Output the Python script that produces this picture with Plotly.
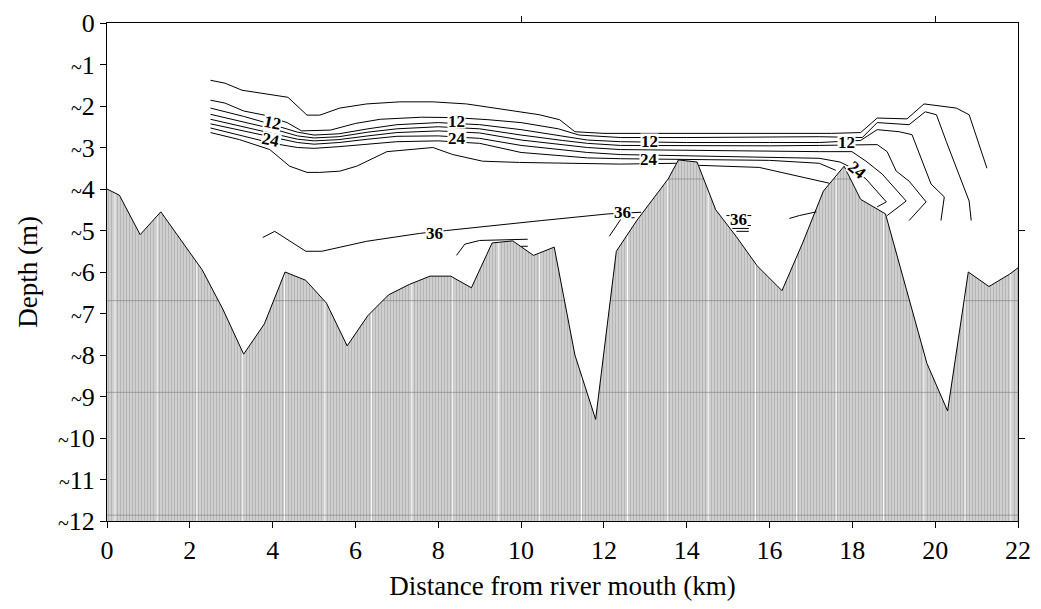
import plotly.graph_objects as go

# ---------------- data ----------------
# bathymetry profile (distance km, depth m)
bed_x = [0, 0.3, 0.8, 1.3, 1.8, 2.3, 2.8, 3.3, 3.8, 4.3, 4.8, 5.3, 5.8, 6.3, 6.8, 7.3, 7.8,
         8.3, 8.8, 9.3, 9.8, 10.3, 10.8, 11.3, 11.8, 12.3, 12.8, 13.3, 13.55, 13.8, 14.25,
         14.7, 15.2, 15.7, 16.3, 16.8, 17.3, 17.8, 18.2, 18.8, 19.3, 19.8, 20.3, 20.8,
         21.3, 21.8, 22]
bed_z = [-4.0, -4.15, -5.1, -4.55, -5.25, -5.95, -6.9, -7.98, -7.25, -6.0, -6.2, -6.75,
         -7.78, -7.05, -6.55, -6.3, -6.1, -6.1, -6.38, -5.3, -5.25, -5.6, -5.4, -8.0,
         -9.55, -5.5, -4.75, -4.1, -3.76, -3.3, -3.35, -4.5, -5.15, -5.85, -6.45, -5.3,
         -4.05, -3.45, -4.25, -4.6, -6.4, -8.2, -9.35, -6.0, -6.35, -6.05, -5.9]

# isohalines (salinity)
iso4_x = [2.5, 2.85, 3.26, 4.37, 4.83, 5.14, 5.62, 6.27, 7.07, 7.87, 8.68, 9.96, 10.44,
          10.93, 11.3, 12.0, 14.0, 16.0, 17.5, 18.2, 18.6, 19.32, 19.73, 20.51, 20.82, 21.25]
iso4_z = [-1.38, -1.45, -1.62, -1.79, -2.22, -2.22, -2.05, -1.95, -1.9, -1.9, -1.95, -2.14,
          -2.21, -2.33, -2.62, -2.66, -2.66, -2.66, -2.66, -2.64, -2.29, -2.31, -1.95,
          -2.05, -2.21, -3.5]

iso8_x = [2.5, 2.85, 3.3, 3.8, 4.35, 4.7, 5.4, 6.0, 6.6, 7.6, 8.4, 9.2, 10.0, 10.9, 11.4,
          12.4, 14.0, 16.0, 17.2, 18.24, 18.6, 19.37, 19.76, 20.03, 20.27, 20.82, 20.87]
iso8_z = [-1.86, -1.93, -2.12, -2.22, -2.4, -2.6, -2.58, -2.42, -2.32, -2.27, -2.28, -2.33,
          -2.4, -2.55, -2.7, -2.76, -2.76, -2.75, -2.74, -2.76, -2.4, -2.45, -2.14, -2.21,
          -2.86, -4.29, -4.76]

iso12_x = [2.5, 3.3, 4.0, 4.6, 5.0, 5.6, 6.3, 7.0, 8.0, 9.0, 10.0, 11.0, 11.6, 12.4, 14.0,
           16.0, 17.2, 18.2, 18.6, 19.13, 19.44, 19.9, 20.22, 20.14]
iso12_z = [-2.05, -2.25, -2.45, -2.63, -2.7, -2.67, -2.55, -2.45, -2.4, -2.45, -2.57,
           -2.72, -2.82, -2.86, -2.88, -2.88, -2.88, -2.83, -2.57, -2.62, -2.69, -3.88,
           -4.19, -4.76]

iso16_x = [2.5, 3.3, 4.0, 4.6, 5.0, 5.6, 6.3, 7.0, 8.0, 9.0, 10.0, 11.0, 11.6, 12.4, 14.0,
           16.0, 17.2, 18.05, 18.6, 18.84, 19.06, 19.37, 19.78, 19.37]
iso16_z = [-2.2, -2.38, -2.55, -2.72, -2.77, -2.74, -2.63, -2.55, -2.5, -2.55, -2.7, -2.83,
           -2.9, -2.95, -2.96, -2.96, -2.95, -2.93, -2.93, -3.1, -3.57, -3.81, -4.31, -4.76]

iso20_x = [2.5, 3.3, 4.0, 4.6, 5.0, 5.6, 6.3, 7.0, 8.0, 9.0, 10.0, 11.0, 11.6, 12.4, 14.0,
           16.0, 17.2, 17.99, 18.33, 18.72, 19.3, 18.84]
iso20_z = [-2.32, -2.5, -2.65, -2.8, -2.84, -2.81, -2.72, -2.64, -2.6, -2.65, -2.82, -2.94,
           -3.0, -3.05, -3.07, -3.08, -3.1, -3.1, -3.33, -3.64, -4.29, -4.64]

iso24_x = [2.5, 3.3, 4.0, 4.6, 5.0, 5.6, 6.3, 7.0, 8.0, 9.0, 10.0, 11.0, 11.6, 12.4, 14.0,
           16.0, 17.2, 17.7, 18.05, 18.33, 18.6, 18.82, 18.6]
iso24_z = [-2.43, -2.6, -2.76, -2.88, -2.92, -2.88, -2.8, -2.73, -2.72, -2.78, -2.95, -3.06,
           -3.12, -3.17, -3.2, -3.22, -3.26, -3.35, -3.52, -3.76, -4.05, -4.31, -4.43]

iso28_x = [2.5, 3.3, 4.0, 4.6, 5.0, 5.6, 6.3, 7.0, 8.0, 9.0, 10.0, 11.0, 11.6, 12.4, 14.0,
           16.0, 17.2, 17.6]
iso28_z = [-2.53, -2.72, -2.9, -3.0, -3.02, -2.98, -2.92, -2.86, -2.84, -2.9, -3.12, -3.2,
           -3.25, -3.27, -3.29, -3.31, -3.38, -3.55]

iso32_x = [2.5, 3.2, 3.93, 4.41, 4.83, 5.14, 5.62, 6.03, 6.76, 7.87, 8.35, 9.07, 9.96, 11.0,
           12.4, 13.75, None, 14.3, 15.75, 17.44]
iso32_z = [-2.64, -2.81, -3.05, -3.45, -3.6, -3.6, -3.57, -3.45, -3.1, -3.0, -3.17, -3.33,
           -3.36, -3.38, -3.4, -3.38, None, -3.43, -3.48, -3.86]

iso36_x = [3.76, 4.05, 4.8, 5.19, 6.27, 7.55, 8.2, 9.48, 10.5, 12.1, 12.75, 12.9, None,
           8.44, 8.64, 9.0, 10.16, None, 10.0, 10.16, None,
           12.13, 12.42, 12.74, None, 16.48, 16.72, 17.13, None,
           14.96, 15.56, None, 15.05, 15.55, None, 15.1, 15.5, None, 15.2, 15.5]
iso36_z = [-5.17, -5.02, -5.5, -5.5, -5.26, -5.07, -5.0, -4.86, -4.76, -4.6, -4.56, -4.56, None,
           -5.6, -5.33, -5.24, -5.21, None, -5.38, -5.38, None,
           -5.14, -4.71, -4.69, None, -4.71, -4.64, -4.55, None,
           -4.64, -4.64, None, -4.88, -4.88, None, -4.95, -4.95, None, -5.02, -5.02]

# contour labels: text, x, depth, rotation
lab_text = ["12", "24", "12", "24", "12", "24", "12", "24", "36", "36", "36"]
lab_x = [4.0, 3.95, 8.45, 8.45, 13.1, 13.1, 17.85, 18.1, 7.9, 12.45, 15.25]
lab_z = [-2.4, -2.82, -2.35, -2.78, -2.84, -3.27, -2.86, -3.55, -5.07, -4.55, -4.72]
lab_rot = [12, 12, 0, 0, 0, 0, 0, 40, 0, 0, 0]

# axis ticks
x_ticks = list(range(0, 23, 2))
y_ticks = list(range(0, -13, -1))
y_ticktext = ["0"] + ["<span style='font-size:20px'>~</span>" + str(-v) for v in y_ticks[1:]]

# --------------- style helpers ---------------
FONT = "Liberation Serif"
seam_x = [0.19, 1.21, 2.17, 3.28, 4.29, 5.26, 6.39, 7.36, 8.35, 9.46, 10.45, 11.46, 12.57,
          13.53, 14.52, 15.66, 16.65, 17.61, 18.75, 19.73, 20.72, 21.83]
seam_z = [-3.76, -6.69, -8.9, -11.86]

fig = go.Figure()

# seabed hatch fill
fig.add_trace(go.Scatter(
    x=bed_x + [22, 0], y=bed_z + [-12, -12], mode="lines", fill="toself",
    line=dict(width=0, color="rgba(0,0,0,0)"),
    fillpattern=dict(shape="|", size=3, solidity=0.34, bgcolor="#cfcfcf", fgcolor="#9c9c9c"),
    hoverinfo="skip", showlegend=False))

# hatch seams
vx, vy = [], []
for s in seam_x:
    vx += [s, s, None]
    vy += [-12, 0, None]
fig.add_trace(go.Scatter(x=vx, y=vy, mode="lines", line=dict(color="white", width=1),
                         hoverinfo="skip", showlegend=False))
hx, hy = [], []
for s in seam_z:
    hx += [0, 22, None]
    hy += [s, s, None]
fig.add_trace(go.Scatter(x=hx, y=hy, mode="lines", line=dict(color="#7a7a7a", width=0.6),
                         hoverinfo="skip", showlegend=False))

# water (white) above the bed
fig.add_trace(go.Scatter(
    x=bed_x + [22, 0], y=bed_z + [0, 0], mode="lines", fill="toself", fillcolor="white",
    line=dict(width=0, color="rgba(0,0,0,0)"), hoverinfo="skip", showlegend=False))

# bed outline
fig.add_trace(go.Scatter(x=bed_x, y=bed_z, mode="lines", line=dict(color="black", width=1),
                         hoverinfo="skip", showlegend=False))

# isohalines
for xs, zs in [(iso4_x, iso4_z), (iso8_x, iso8_z), (iso12_x, iso12_z), (iso16_x, iso16_z),
               (iso20_x, iso20_z), (iso24_x, iso24_z), (iso28_x, iso28_z),
               (iso32_x, iso32_z), (iso36_x, iso36_z)]:
    fig.add_trace(go.Scatter(x=xs, y=zs, mode="lines", line=dict(color="black", width=1),
                             connectgaps=False, hoverinfo="skip", showlegend=False))

# contour labels
for t, x, z, r in zip(lab_text, lab_x, lab_z, lab_rot):
    fig.add_annotation(x=x, y=z, text=t, showarrow=False, textangle=r,
                       font=dict(family=FONT, size=17, color="black", weight="bold"),
                       bgcolor="white", borderpad=0, height=14)

# mirror-axis ticks
fig.add_trace(go.Scatter(x=[0], y=[0], xaxis="x2", yaxis="y2", mode="markers",
                         marker=dict(opacity=0), hoverinfo="skip", showlegend=False))

# page body has an 8px margin, so the figure is shrunk by that amount
fig.update_layout(
    width=1025, height=593,
    margin=dict(l=99, r=14, t=9, b=80),
    paper_bgcolor="white", plot_bgcolor="white",
    font=dict(family=FONT, size=26, color="black"),
    xaxis=dict(range=[0, 22], tickvals=x_ticks, ticks="outside", ticklen=6,
               tickcolor="black", showline=True, linecolor="black", linewidth=1,
               mirror=True, showgrid=False, zeroline=False, automargin=False,
               tickfont=dict(family=FONT, size=26),
               title=dict(text="Distance from river mouth (km)", standoff=20,
                          font=dict(family=FONT, size=27))),
    yaxis=dict(range=[-12, 0], tickvals=y_ticks, ticktext=y_ticktext, ticks="outside",
               ticklen=6, tickcolor="black", showline=True, linecolor="black",
               linewidth=1, mirror=True, showgrid=False, zeroline=False, automargin=False,
               tickfont=dict(family=FONT, size=26),
               title=dict(text="Depth (m)", standoff=12, font=dict(family=FONT, size=27))),
    xaxis2=dict(range=[0, 22], overlaying="x", side="top", anchor="y2", tickvals=[10, 20],
                ticks="outside", ticklen=6, tickcolor="black", showticklabels=False,
                showgrid=False, zeroline=False, showline=False),
    yaxis2=dict(range=[-12, 0], overlaying="y", side="right", anchor="x2",
                tickvals=[-5, -10], ticks="outside", ticklen=6, tickcolor="black",
                showticklabels=False, showgrid=False, zeroline=False, showline=False),
)

fig.write_html("out.html")
